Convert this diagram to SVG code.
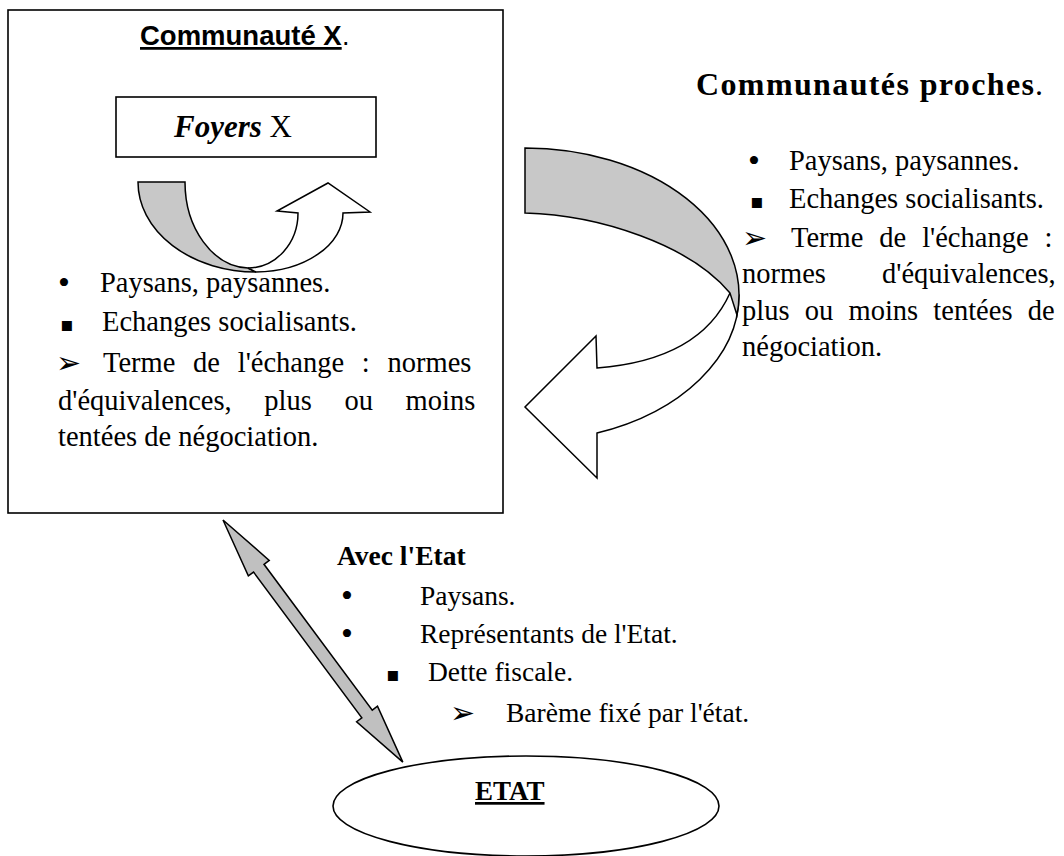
<svg xmlns="http://www.w3.org/2000/svg" width="1064" height="856" viewBox="0 0 1064 856">
<style>
.box{fill:#fff;stroke:#000;stroke-width:1.6}
.arr{stroke:#000;stroke-width:1.5;stroke-linejoin:miter}
.g{fill:#c8c8c8}
.w{fill:#fff}
.t{font-family:"Liberation Serif","DejaVu Sans",serif;font-size:28.5px;fill:#000}
.b{font-family:"Liberation Serif","DejaVu Sans",serif;font-size:27.5px;fill:#000}
.sym{font-family:"DejaVu Sans",sans-serif;fill:#000}
.dot{font-family:"Liberation Serif",serif;font-size:34px;fill:#000}
.sq{font-family:"DejaVu Sans",sans-serif;font-size:20px;fill:#000}
.ar{font-family:"DejaVu Sans",sans-serif;font-size:30px;fill:#000}
</style>
<rect width="1064" height="856" fill="#fff"/>
<g id="communaute-x">
<rect class="box" x="8" y="10" width="495" height="503"/>
<text x="140" y="45" style="font-family:'Liberation Sans',Arial,sans-serif;font-size:27.5px;font-weight:bold;text-decoration:underline">Communauté X</text>
<text x="342" y="45" style="font-family:'Liberation Sans',Arial,sans-serif;font-size:27px">.</text>
<text class="dot" x="58" y="294">•</text>
<text class="t" x="100" y="292">Paysans, paysannes.</text>
<text class="sq" x="60" y="331">▪</text>
<text class="t" x="102" y="331">Echanges socialisants.</text>
<text class="ar" x="56" y="373">➢</text>
<text class="t" x="103" y="372" style="word-spacing:10.6px">Terme de l'échange : normes</text>
<text class="t" x="58" y="410" style="word-spacing:25.5px">d'équivalences, plus ou moins</text>
<text class="t" x="58" y="446">tentées de négociation.</text>
</g>
<g id="foyers-x">
<rect class="box" x="116" y="97" width="260" height="60"/>
<text x="174" y="137" style="font-family:'Liberation Serif',serif;font-size:31px"><tspan font-weight="bold" font-style="italic">Foyers</tspan> X</text>
</g>
<g id="communautes-proches">
<text x="696" y="95" style="font-family:'Liberation Serif',serif;font-size:32px;font-weight:bold" textLength="338">Communautés proches</text>
<text x="1035" y="95" style="font-family:'Liberation Serif',serif;font-size:32px">.</text>
<text class="dot" x="748" y="172">•</text>
<text class="t" x="789" y="170">Paysans, paysannes.</text>
<text class="sq" x="750" y="208">▪</text>
<text class="t" x="789" y="208">Echanges socialisants.</text>
<text class="ar" x="742" y="248">➢</text>
<text class="t" x="791" y="247" style="word-spacing:8.8px">Terme de l'échange :</text>
<text class="t" x="742" y="283" style="word-spacing:49px">normes d'équivalences,</text>
<text class="t" x="742" y="320" style="word-spacing:8.1px">plus ou moins tentées de</text>
<text class="t" x="742" y="356">négociation.</text>
</g>
<g id="avec-etat">
<text class="b" x="337" y="565" font-weight="bold">Avec l'Etat</text>
<text class="dot" x="341" y="607">•</text>
<text class="b" x="420" y="605">Paysans.</text>
<text class="dot" x="341" y="645">•</text>
<text class="b" x="420" y="643">Représentants de l'Etat.</text>
<text class="sq" x="386" y="681">▪</text>
<text class="b" x="428" y="681">Dette fiscale.</text>
<text class="ar" x="450" y="723">➢</text>
<text class="b" x="506" y="722">Barème fixé par l'état.</text>
</g>
<g id="etat">
<ellipse class="box" cx="526" cy="806" rx="193" ry="50"/>
<text x="475" y="800" style="font-family:'Liberation Serif',serif;font-size:27px;font-weight:bold;text-decoration:underline">ETAT</text>
</g>
<g id="connectors">
<path class="arr g" d="M138,182 L185,182 A65,86 0 0 0 248,268 L256,272 A118,90 0 0 1 138,182 Z"/>
<path class="arr w" d="M248,268 L256,272 A88,59 0 0 0 343,213 L370,212 L328,183 L277,211 L298,213 A50,55 0 0 1 248,268 Z"/>
<path class="arr w" d="M730,293 L739,295 A214,147 0 0 1 597,433 L597,478 L525,407 L596,336 L597,368 Q700,360 730,293 Z"/>
<path class="arr g" d="M525,148 A214,147 0 0 1 737,315 L730,293 C690,245 600,215 525,213 Z"/>
<polygon class="arr" fill="#c0c0c0" transform="translate(223,520) rotate(53.4)" points="0,0 60,-13 60,-6.5 241.6,-6.5 241.6,-13 301.6,0 241.6,13 241.6,6.5 60,6.5 60,13"/>
</g>
</svg>
